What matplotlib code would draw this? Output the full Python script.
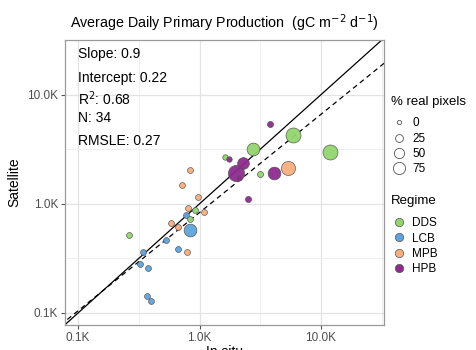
import numpy as np
import matplotlib.pyplot as plt
from matplotlib.lines import Line2D

plt.rcParams["font.family"] = ["Liberation Sans", "DejaVu Sans"]

# -------------------------
# data (log10 of gC m-2 d-1 *1000 scale)
# -------------------------
regimes = ["DDS", "LCB", "MPB", "HPB"]
colors = {"DDS": "#93D46F", "LCB": "#5FA3DC", "MPB": "#F8AE80", "HPB": "#8E2B8D"}

log_insitu = [3.580, 3.772, 4.074, 3.443, 3.210, 3.243, 3.361, 3.726, 3.298, 3.613,
              3.498, 3.328, 2.922, 2.856, 3.399, 2.985, 2.908, 2.963, 3.034, 2.889,
              2.924, 2.765, 2.820, 2.919, 2.417, 2.724, 2.823, 2.900, 2.538, 2.513,
              2.579, 2.565, 2.601]
log_sat = [3.730, 3.627, 3.476, 3.506, 3.430, 3.412, 3.370, 3.327, 3.285, 3.285,
           3.275, 3.239, 3.306, 3.175, 3.048, 3.064, 2.961, 2.945, 2.925, 2.897,
           2.864, 2.821, 2.785, 2.764, 2.712, 2.673, 2.582, 2.557, 2.561, 2.445,
           2.412, 2.155, 2.112]
regime = ["HPB", "DDS", "DDS", "DDS", "DDS", "HPB", "HPB", "MPB", "HPB", "HPB",
          "DDS", "HPB", "MPB", "MPB", "HPB", "MPB", "MPB", "DDS", "MPB", "LCB",
          "DDS", "MPB", "MPB", "LCB", "DDS", "LCB", "LCB", "MPB", "LCB", "LCB",
          "LCB", "LCB", "LCB"]
pct_real = [5, 83, 83, 57, 2, 2, 47, 72, 100, 57,
            5, 0, 4, 4, 5, 4, 4, 4, 4, 4,
            4, 4, 4, 57, 4, 4, 4, 4, 4, 4,
            4, 4, 4]

size_breaks = [0, 25, 50, 75]
stats = ["Slope: 0.9", "Intercept: 0.22", "R$^2$: 0.68", "N: 34", "RMSLE: 0.27"]
slope, intercept = 0.9, 0.22


def marker_area(p):
    d_px = np.sqrt(25 + 2.4 * np.asarray(p))
    return (d_px * 0.72) ** 2


insitu = 10 ** np.array(log_insitu)
sat = 10 ** np.array(log_sat)

fig = plt.figure(figsize=(4.76, 3.5), dpi=100)
ax = fig.add_axes([0.1366, 0.0714, 0.6701, 0.8143])

xlim = (10 ** 1.893, 10 ** 4.518)
ylim = (10 ** 1.89, 10 ** 4.48)

# larger markers first so small ones stay visible
order = np.argsort(-np.array(pct_real))
for i in order:
    ax.scatter(insitu[i], sat[i], s=marker_area(pct_real[i]),
               color=colors[regime[i]], edgecolor="#555555",
               linewidth=0.5, alpha=0.95, zorder=3)

# 1:1 line and fit
xx = np.logspace(1.8, 4.6, 50)
ax.plot(xx, xx, color="black", linewidth=0.9, zorder=2)
ax.plot(xx, 10 ** (slope * np.log10(xx) + intercept), color="black",
        linewidth=0.9, linestyle=(0, (4, 3)), zorder=2)

ax.set_xscale("log")
ax.set_yscale("log")
ax.set_xlim(xlim)
ax.set_ylim(ylim)

ticks = [100, 1000, 10000]
tick_labels = ["0.1K", "1.0K", "10.0K"]
minor = [10 ** 2.5, 10 ** 3.5, 10 ** 4.5]
ax.set_xticks(ticks, tick_labels)
ax.set_yticks(ticks, tick_labels)
ax.set_xticks(minor, minor=True)
ax.set_yticks(minor, minor=True)
ax.tick_params(which="minor", length=0)
ax.tick_params(which="major", length=3, color="#555555", labelcolor="#4d4d4d",
               labelsize=8.5, width=0.8, pad=2)
ax.grid(which="major", color="#e3e3e3", linewidth=0.9, zorder=0)
ax.grid(which="minor", color="#ececec", linewidth=0.6, zorder=0)
ax.set_axisbelow(True)
for sp in ax.spines.values():
    sp.set_color("#9a9a9a")
    sp.set_linewidth(0.9)

ax.set_xlabel("In situ", fontsize=10, labelpad=1)
ax.set_ylabel("Satellite", fontsize=10, labelpad=4)
ax.set_title("Average Daily Primary Production  (gC m$^{-2}$ d$^{-1}$)",
             fontsize=10.3, pad=9)

# stats text
y_text = [0.95, 0.865, 0.795, 0.725, 0.645]
for txt, yt in zip(stats, y_text):
    ax.text(0.04, yt, txt, transform=ax.transAxes, fontsize=10,
            va="center", ha="left")

# -------------------------
# legends
# -------------------------
size_handles = [Line2D([], [], marker="o", linestyle="none",
                       markersize=np.sqrt(marker_area(p)) * 0.85,
                       markerfacecolor="white", markeredgecolor="#555555",
                       markeredgewidth=0.6) for p in size_breaks]
leg1 = fig.legend(size_handles, [str(b) for b in size_breaks],
                  title="% real pixels", loc="upper left",
                  bbox_to_anchor=(0.812, 0.74), frameon=False, fontsize=8.5,
                  title_fontsize=9.5, labelspacing=0.28, handletextpad=0.5,
                  borderaxespad=0, handlelength=1.3)
leg1._legend_box.align = "left"
leg1._legend_box.sep = 7

reg_handles = [Line2D([], [], marker="o", linestyle="none", markersize=6,
                      markerfacecolor=colors[r], markeredgecolor="#555555",
                      markeredgewidth=0.5) for r in regimes]
leg2 = fig.legend(reg_handles, regimes, title="Regime", loc="upper left",
                  bbox_to_anchor=(0.812, 0.455), frameon=False, fontsize=8.5,
                  title_fontsize=9.5, labelspacing=0.28, handletextpad=0.5,
                  borderaxespad=0, handlelength=1.3)
leg2._legend_box.align = "left"
leg2._legend_box.sep = 7

fig.savefig("out.png", dpi=100)
